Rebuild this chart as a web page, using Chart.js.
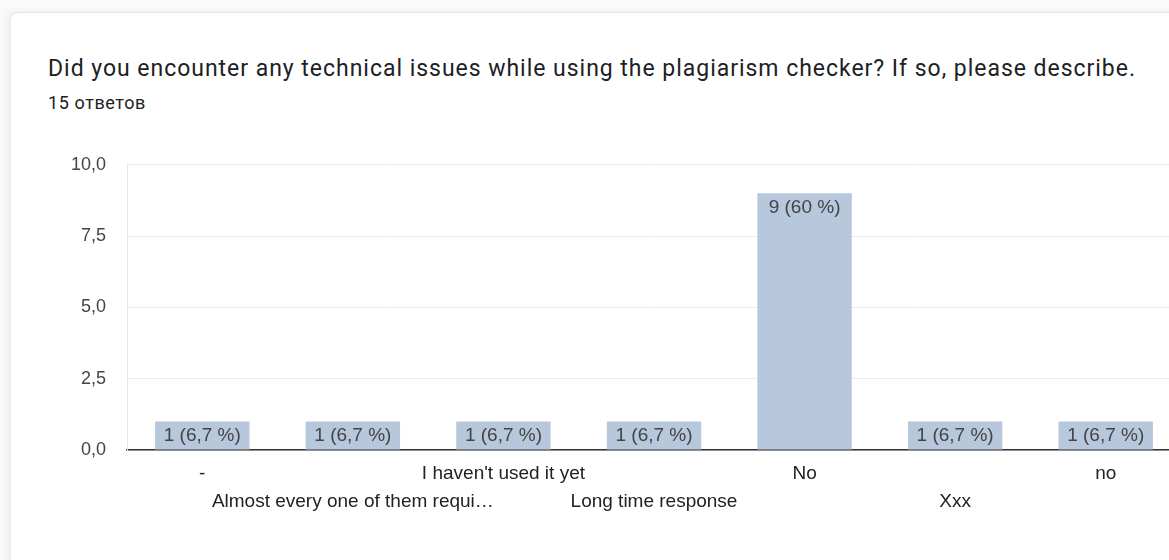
<!DOCTYPE html>
<html>
<head>
<meta charset="utf-8">
<script src="https://cdn.jsdelivr.net/npm/chart.js@4.4.0/dist/chart.umd.min.js"></script>
<style>
  html, body { margin: 0; padding: 0; width: 1169px; height: 560px; overflow: hidden; background: #fafafa; }
  #card { position: absolute; left: 10px; top: 12px; width: 1200px; height: 600px; background: #fff;
          border-top: 1px solid #e3e3e3; border-left: 1px solid #ececec; border-top-left-radius: 8px;
          box-shadow: -3px 0 8px rgba(0,0,0,0.06); }
  #title { position: absolute; left: 48px; top: 55px; font-family: Roboto, sans-serif; font-size: 23px;
           color: #202124; white-space: nowrap; letter-spacing: 0.97px; }
  #sub { position: absolute; left: 48px; top: 92px; font-family: Roboto, sans-serif; font-size: 18px; color: #202124; letter-spacing: 0.6px; }
  #wrap { position: absolute; left: 0; top: 133px; width: 1181px; height: 380px; }
</style>
</head>
<body>
<div id="card"></div>
<div id="title">Did you encounter any technical issues while using the plagiarism checker? If so, please describe.</div>
<div id="sub">15 ответов</div>
<div id="wrap"><canvas id="c" width="1181" height="380"></canvas></div>
<script>
const categories = ["-", "Almost every one of them requi\u2026", "I haven't used it yet", "Long time response", "No", "Xxx", "no"];
const counts = [1, 1, 1, 1, 9, 1, 1];
const percents = ["6,7", "6,7", "6,7", "6,7", "60", "6,7", "6,7"];
const yTicks = ["0,0", "2,5", "5,0", "7,5", "10,0"];

const barLabels = {
  id: 'barLabels',
  afterDatasetsDraw(chart) {
    const ctx = chart.ctx;
    const meta = chart.getDatasetMeta(0);
    ctx.save();
    ctx.font = '19px "Liberation Sans", Arial, sans-serif';
    ctx.fillStyle = '#444';
    ctx.textAlign = 'center';
    ctx.textBaseline = 'middle';
    meta.data.forEach((bar, i) => {
      ctx.fillText(counts[i] + ' (' + percents[i] + ' %)', bar.x, bar.y + 14);
    });
    ctx.restore();
  }
};

new Chart(document.getElementById('c'), {
  type: 'bar',
  data: {
    labels: categories,
    datasets: [{
      data: counts,
      backgroundColor: '#b7c7dc',
      borderWidth: 0,
      categoryPercentage: 1,
      barPercentage: 0.627
    }]
  },
  options: {
    responsive: false,
    animation: false,
    layout: { padding: { top: 13, right: 0, bottom: 0, left: 0 } },
    plugins: { legend: { display: false }, tooltip: { enabled: false }, title: { display: false } },
    scales: {
      x: {
        grid: { display: false, drawTicks: false },
        border: { display: true, color: '#333', width: 1.5 },
        ticks: {
          autoSkip: false, maxRotation: 0, minRotation: 0, padding: 10,
          color: '#222',
          font: { family: '"Liberation Sans", Arial, sans-serif', size: 19, lineHeight: 1.474 },
          callback: function(v, i) { return i % 2 === 0 ? [categories[i]] : ['', categories[i]]; }
        },
        afterFit: function(s) { s.height = 63; }
      },
      y: {
        min: 0, max: 10,
        grid: { color: '#ebebeb', drawTicks: false },
        border: { display: true, color: '#e6e6e6' },
        ticks: {
          stepSize: 2.5, padding: 21, color: '#444',
          font: { family: '"Liberation Sans", Arial, sans-serif', size: 18 },
          callback: function(v, i) { return yTicks[i]; }
        },
        afterFit: function(s) { s.width = 127; }
      }
    }
  },
  plugins: [barLabels]
});
</script>
</body>
</html>
